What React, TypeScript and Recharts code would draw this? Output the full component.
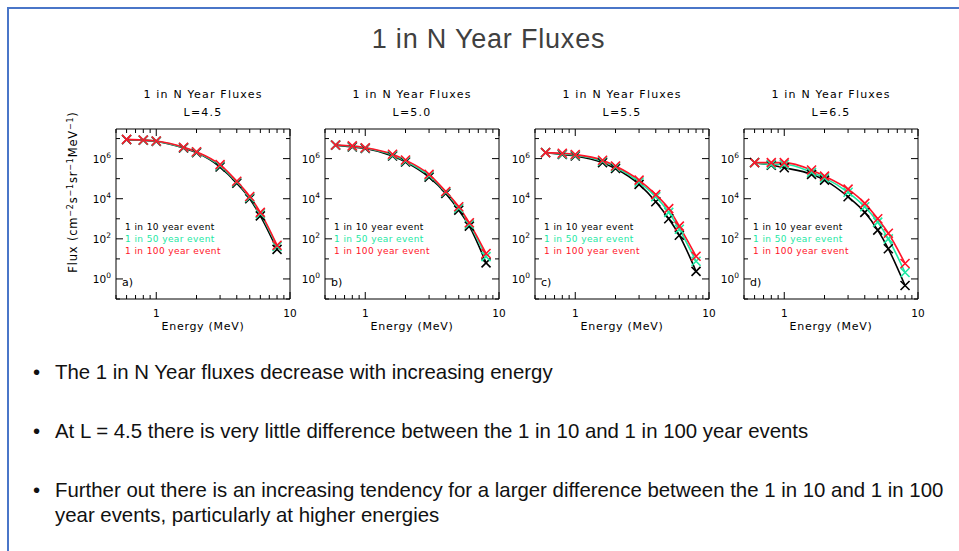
import React from "react";
import { LineChart, Line, XAxis, YAxis, ReferenceArea, Legend, Label } from "recharts";

// energy channels (MeV)
const energies = [0.6, 0.8, 1.0, 1.6, 2.0, 3.0, 4.0, 5.0, 6.0, 8.0];

// L = 4.5
const l45Yr10 = [8.8e6, 8.2e6, 7.2e6, 3.4e6, 2.0e6, 3.8e5, 6.0e4, 1.0e4, 1.4e3, 30];
const l45Yr50 = [9.0e6, 8.4e6, 7.4e6, 3.6e6, 2.1e6, 4.4e5, 6.8e4, 1.15e4, 1.8e3, 42];
const l45Yr100 = [9.1e6, 8.5e6, 7.6e6, 3.7e6, 2.2e6, 5.0e5, 7.4e4, 1.3e4, 2.1e3, 48];

// L = 5.0
const l50Yr10 = [4.7e6, 3.8e6, 3.2e6, 1.35e6, 6.8e5, 1.2e5, 1.85e4, 2.7e3, 430, 6.3];
const l50Yr50 = [4.8e6, 4.1e6, 3.4e6, 1.5e6, 7.6e5, 1.4e5, 2.1e4, 3.4e3, 540, 13];
const l50Yr100 = [4.8e6, 4.3e6, 3.5e6, 1.65e6, 8.5e5, 1.65e5, 2.3e4, 4.0e3, 630, 18.6];

// L = 5.5
const l55Yr10 = [2.0e6, 1.6e6, 1.35e6, 6.3e5, 3.2e5, 5.2e4, 7.1e3, 1.0e3, 150, 2.4];
const l55Yr50 = [2.0e6, 1.7e6, 1.5e6, 7.4e5, 3.8e5, 6.8e4, 1.25e4, 2.1e3, 300, 7.6];
const l55Yr100 = [2.0e6, 1.85e6, 1.6e6, 8.3e5, 4.3e5, 8.5e4, 1.6e4, 3.2e3, 430, 13.5];

// L = 6.5
const l65Yr10 = [6.3e5, 4.7e5, 3.5e5, 1.65e5, 8.5e4, 1.25e4, 2.1e3, 270, 32, 0.47];
const l65Yr50 = [6.3e5, 5.2e5, 5.2e5, 2.1e5, 1.1e5, 2.1e4, 4.0e3, 680, 100, 2.1];
const l65Yr100 = [6.3e5, 6.3e5, 6.3e5, 2.7e5, 1.35e5, 3.0e4, 5.9e3, 1.0e3, 190, 5.9];

const shells = ["4.5", "5.0", "5.5", "6.5"];
const tags = ["a)", "b)", "c)", "d)"];
const series = [
  [l45Yr10, l45Yr50, l45Yr100],
  [l50Yr10, l50Yr50, l50Yr100],
  [l55Yr10, l55Yr50, l55Yr100],
  [l65Yr10, l65Yr50, l65Yr100],
];

const eventNames = ["1 in 10 year event", "1 in 50 year event", "1 in 100 year event"];
const eventColors = ["#000000", "#1ee8a4", "#ff1428"];

const xTicks = [0.5, 0.6, 0.7, 0.8, 0.9, 1, 2, 3, 4, 5, 6, 7, 8, 9, 10];
const xMajor = [1, 10];
const yTicks = [0.1, 1, 10, 100, 1e3, 1e4, 1e5, 1e6, 1e7];

const frameLefts = [116, 325, 535, 744];
const PW = 174;
const PH = 170;
const AX = 50;
const plotFont = '"DejaVu Sans", sans-serif';

function XTick({ x, y, payload }: any) {
  const v = payload.value;
  const major = xMajor.includes(v);
  const len = major ? 7 : 4;
  return (
    <g>
      <line x1={x} y1={y} x2={x} y2={y - len} stroke="#000" />
      <line x1={x} y1={y - PH} x2={x} y2={y - PH + len} stroke="#000" />
      {major && (
        <text x={x} y={y + 18} textAnchor="middle" fontSize={10.5} fill="#000" fontFamily={plotFont}>
          {v}
        </text>
      )}
    </g>
  );
}

function YTick({ x, y, payload }: any) {
  const exp = Math.round(Math.log10(payload.value));
  const major = exp >= 0 && exp % 2 === 0;
  const len = major ? 7 : 4;
  return (
    <g>
      <line x1={x} y1={y} x2={x + len} y2={y} stroke="#000" />
      <line x1={x + PW - len} y1={y} x2={x + PW} y2={y} stroke="#000" />
      {major && (
        <text x={x - 5} y={y + 4} textAnchor="end" fontSize={10.5} fill="#000" fontFamily={plotFont}>
          10<tspan dy={-5} fontSize={7.5}>{exp}</tspan>
        </text>
      )}
    </g>
  );
}

const XMark = (props: any) => {
  const { cx, cy, stroke, index } = props;
  if (cx == null || cy == null) return <g key={index} />;
  const s = 4.5;
  return (
    <path
      key={index}
      d={`M${cx - s},${cy - s}L${cx + s},${cy + s}M${cx - s},${cy + s}L${cx + s},${cy - s}`}
      stroke={stroke}
      strokeWidth={1.6}
      fill="none"
    />
  );
};

const LegendBox = ({ payload }: any) => {
  const items = [...(payload || [])].sort(
    (p: any, q: any) => eventNames.indexOf(p.value) - eventNames.indexOf(q.value)
  );
  return (
    <div style={{ fontFamily: plotFont, fontSize: 9, lineHeight: "12px", letterSpacing: 0.4, whiteSpace: "nowrap" }}>
      {items.map((p: any) => (
        <div key={p.value} style={{ color: p.color }}>
          {p.value}
        </div>
      ))}
    </div>
  );
};

function Panel({ idx }: { idx: number }) {
  const [a, b, c] = series[idx];
  const data = energies.map((e, i) => ({ e, yr10: a[i], yr50: b[i], yr100: c[i] }));
  const keys = ["yr10", "yr50", "yr100"];
  const titleStyle: React.CSSProperties = {
    position: "absolute",
    left: AX,
    width: PW,
    textAlign: "center",
    fontFamily: plotFont,
    fontSize: 11,
    lineHeight: "14px",
    letterSpacing: 1.2,
    color: "#000",
  };
  return (
    <div style={{ position: "absolute", left: frameLefts[idx] - AX, top: 80, width: AX + PW + 10, height: 270 }}>
      <div style={{ ...titleStyle, top: 8 }}>1 in N Year Fluxes</div>
      <div style={{ ...titleStyle, top: 26 }}>L={shells[idx]}</div>
      <div style={{ position: "absolute", left: 0, top: 44 }}>
        <LineChart width={AX + PW + 10} height={PH + 50} data={data} margin={{ top: 5, right: 10, left: 0, bottom: 0 }}>
          <XAxis
            dataKey="e"
            type="number"
            scale="log"
            domain={[0.5, 10]}
            allowDataOverflow
            ticks={xTicks}
            interval={0}
            tickSize={0}
            tickMargin={0}
            tickLine={false}
            axisLine={false}
            tick={(p: any) => <XTick {...p} />}
            height={45}
          >
            <Label
              value="Energy (MeV)"
              position="insideBottom"
              offset={14}
              fontSize={11}
              fill="#000"
              fontFamily={plotFont}
              letterSpacing={0.7}
            />
          </XAxis>
          <YAxis
            type="number"
            scale="log"
            domain={[0.1, 3e7]}
            allowDataOverflow
            ticks={yTicks}
            interval={0}
            tickSize={0}
            tickMargin={0}
            tickLine={false}
            axisLine={false}
            tick={(p: any) => <YTick {...p} />}
            width={AX}
          />
          <ReferenceArea x1={0.5} x2={10} y1={0.1} y2={3e7} stroke="#000" strokeWidth={1} fill="none" fillOpacity={0} ifOverflow="visible" />
          <Legend
            layout="horizontal"
            verticalAlign="middle"
            align="center"
            content={<LegendBox />}
            wrapperStyle={{ left: AX + 9, top: 97, width: 140 }}
          />
          {keys.map((k, i) => (
            <Line
              key={k}
              dataKey={k}
              name={eventNames[i]}
              stroke={eventColors[i]}
              strokeWidth={1.6}
              type="monotone"
              dot={XMark}
              activeDot={false}
              isAnimationActive={false}
            />
          ))}
        </LineChart>
      </div>
      <div style={{ position: "absolute", left: AX + 6, top: 196, fontFamily: plotFont, fontSize: 11, color: "#000" }}>{tags[idx]}</div>
    </div>
  );
}

const bullets = [
  "The 1 in N Year fluxes decrease with increasing energy",
  "At L = 4.5 there is very little difference between the 1 in 10 and 1 in 100 year events",
  "Further out there is an increasing tendency for a larger difference between the 1 in 10 and 1 in 100 year events, particularly at higher energies",
];
const bulletTops = [360, 419, 478];

export default function App() {
  return (
    <div style={{ position: "absolute", left: 0, top: 0, width: 959, height: 551, overflow: "hidden", background: "#fff", fontFamily: '"Liberation Sans", Arial, sans-serif' }}>
      <div style={{ position: "absolute", left: 7, top: 7, width: 1000, height: 600, borderLeft: "2px solid #4a76c8", borderTop: "2px solid #4a76c8" }} />
      <div style={{ position: "absolute", left: 9, width: 959, top: 24, textAlign: "center", fontSize: 27, lineHeight: "30px", letterSpacing: 0.8, color: "#404040" }}>
        1 in N Year Fluxes
      </div>
      <div
        style={{
          position: "absolute",
          left: 73,
          top: 192,
          transform: "translate(-50%, -50%) rotate(-90deg)",
          whiteSpace: "nowrap",
          fontFamily: plotFont,
          fontSize: 11.5,
          letterSpacing: 0.8,
          color: "#000",
        }}
      >
        Flux (cm<sup style={{ fontSize: 8 }}>−2</sup>s<sup style={{ fontSize: 8 }}>−1</sup>sr<sup style={{ fontSize: 8 }}>−1</sup>MeV<sup style={{ fontSize: 8 }}>−1</sup>)
      </div>
      {shells.map((_, i) => (
        <Panel key={i} idx={i} />
      ))}
      {bullets.map((t, i) => (
        <div key={i} style={{ position: "absolute", left: 0, top: bulletTops[i], width: 959, fontSize: 20.4, lineHeight: "25px", color: "#111" }}>
          <span style={{ position: "absolute", left: 33 }}>•</span>
          <div style={{ marginLeft: 55, width: 895 }}>{t}</div>
        </div>
      ))}
    </div>
  );
}
